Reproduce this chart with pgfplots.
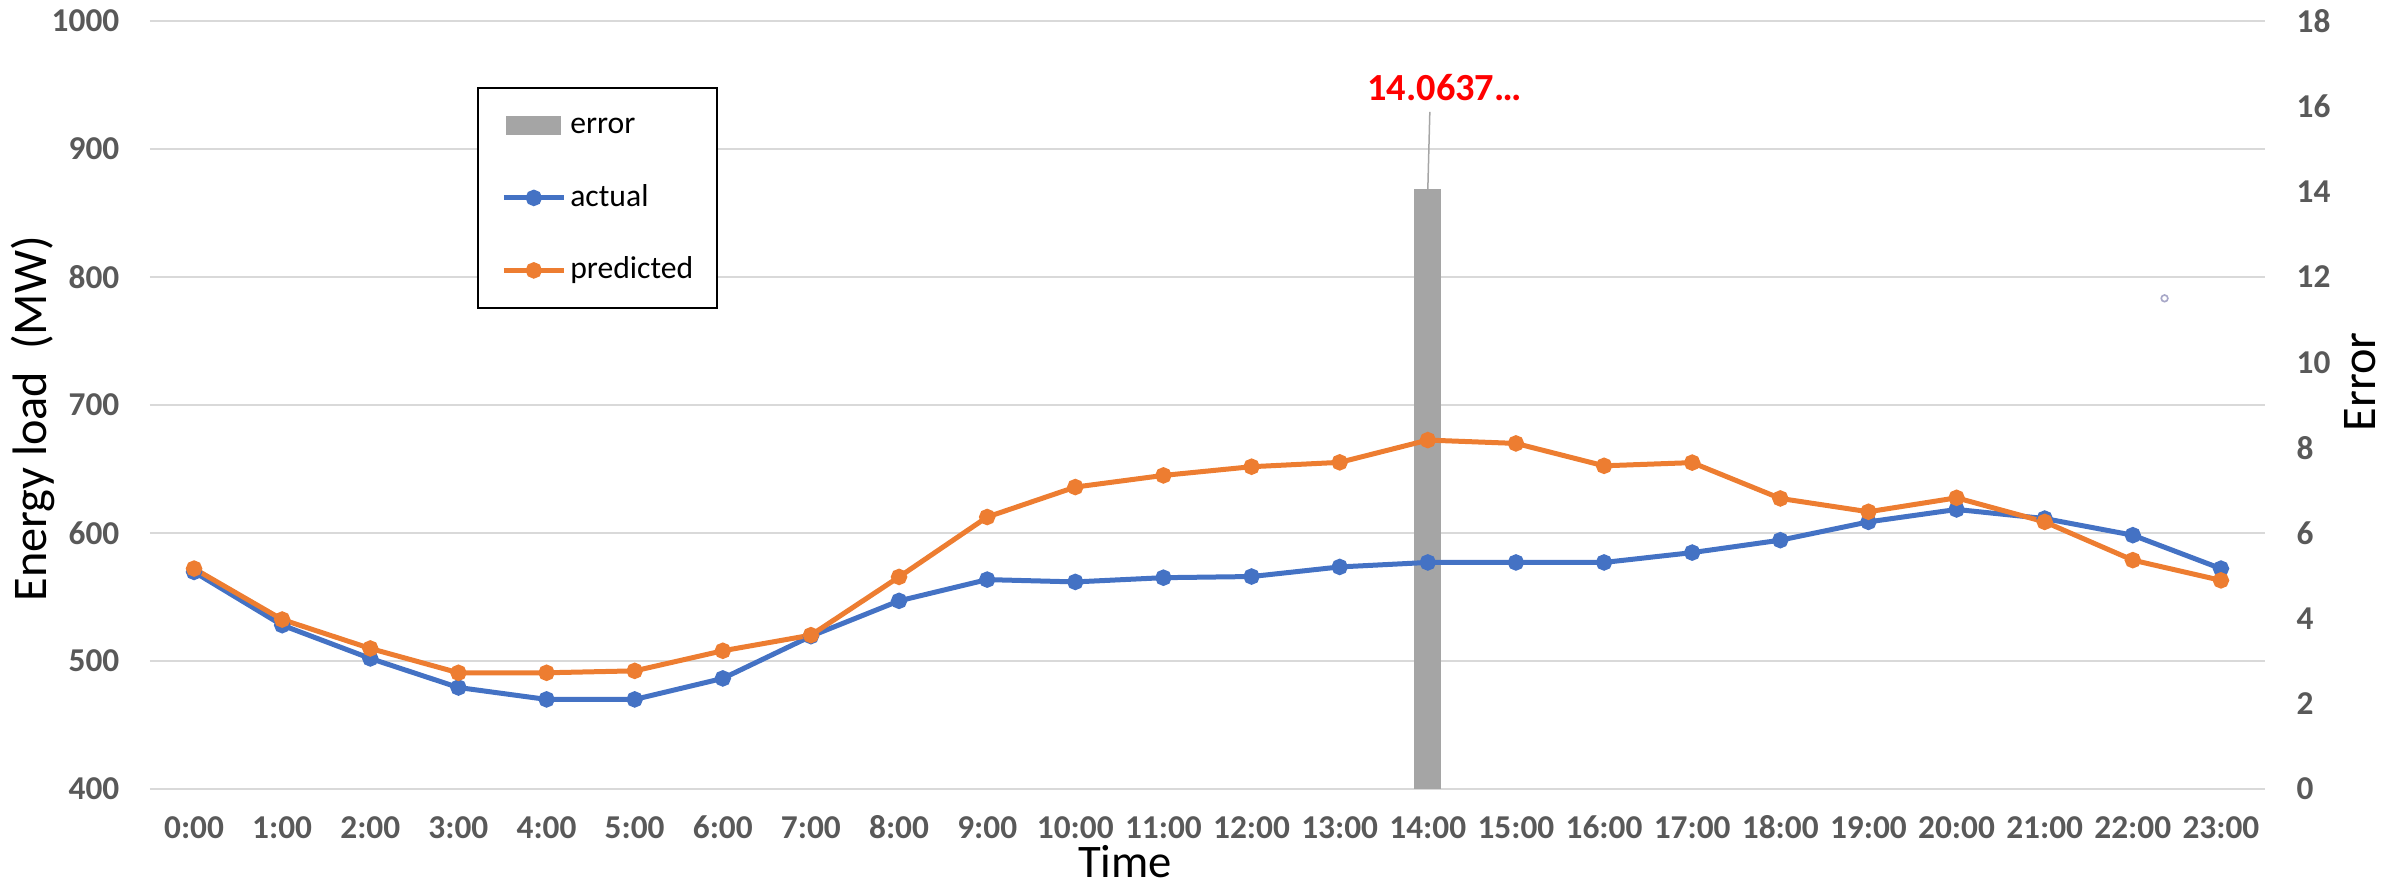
\documentclass[border=0pt]{standalone}
\usepackage{pgfplots}
\pgfplotsset{compat=1.18}
\usepackage{fontspec}
\setmainfont{Carlito}
\definecolor{actualblue}{HTML}{4472C4}
\definecolor{predorange}{HTML}{ED7D31}
\definecolor{errgray}{HTML}{A5A5A5}
\definecolor{gridgray}{HTML}{D9D9D9}
\definecolor{ticktext}{HTML}{595959}
\definecolor{leadergray}{HTML}{A6A6A6}
\definecolor{straycol}{HTML}{A8A8C8}

\pgfplotsset{
  base/.style={
    scale only axis, width=634.5pt, height=230.4pt,
    at={(0pt,0pt)}, anchor=south west,
    xmin=-0.5, xmax=23.5,
    /pgf/number format/assume math mode=true,
    /pgf/number format/1000 sep={},
    tick label style={font=\fontsize{10}{12}\selectfont\bfseries, text=ticktext},
    major tick length=0pt,
    axis line style={draw=none},
  },
  linestyle/.style={line width=1.5pt, mark=*, mark size=1.7pt, #1, mark options={solid, fill=#1, draw=#1}},
}

\begin{document}
\begin{tikzpicture}
% Axis A: grid, x ticks, left ticks and labels
\begin{axis}[base,
  ymin=400, ymax=1000, ytick={400,500,...,1000},
  ymajorgrids, grid style={gridgray, line width=0.6pt},
  xtick={0,...,23},
  xticklabels={0:00,1:00,2:00,3:00,4:00,5:00,6:00,7:00,8:00,9:00,10:00,11:00,12:00,13:00,14:00,15:00,16:00,17:00,18:00,19:00,20:00,21:00,22:00,23:00},
  yticklabel style={anchor=east, inner sep=0pt, xshift=-9pt},
  xticklabel style={anchor=base, inner sep=0pt, yshift=-14.85pt},
  xlabel={Time},
  xlabel style={at={([yshift=-26.4pt]axis description cs:0.461,0)}, anchor=base, inner sep=0pt, font=\fontsize{14}{16}\selectfont},
  ylabel={Energy load\ \ (MW)},
  ylabel style={at={([xshift=-35.1pt]axis description cs:0,0.482)}, anchor=center, inner sep=0pt, font=\fontsize{14.5}{17}\selectfont},
]
\addplot[draw=none, forget plot] coordinates {(0,400)};
\end{axis}

% Axis B: error bar on secondary axis
\begin{axis}[base,
  ymin=0, ymax=18, ytick={0,2,...,18},
  axis y line*=right, axis x line=none,
  yticklabel style={anchor=west, inner sep=0pt, xshift=9.3pt},
  ylabel={Error},
  ylabel style={at={([xshift=28.5pt]axis description cs:1,0.53)}, anchor=center, inner sep=0pt, font=\fontsize{14.5}{17}\selectfont},
]
\addplot[ybar, bar width=8.1pt, bar shift=0pt, fill=errgray, draw=none,
  point meta=explicit symbolic, nodes near coords,
  nodes near coords style={font=\fontsize{11.5}{13}\selectfont\bfseries, text=red, anchor=center, inner sep=0pt, yshift=30.3pt, xshift=5pt}]
  coordinates {(14,14.0637) [14.0637…]};
\draw[leadergray, line width=0.45pt] (axis cs:14,14.0637) -- ([xshift=0.6pt,yshift=23.1pt]axis cs:14,14.0637);
\addplot[only marks, mark=o, mark size=1pt, mark options={draw=straycol, line width=0.5pt}] coordinates {(22.36,11.5)};
\end{axis}

% Axis C: lines and legend
\begin{axis}[base,
  ymin=400, ymax=1000, hide axis,
  legend style={at={(0.1546,0.914)}, anchor=north west, draw=black, line width=0.6pt, fill=white,
    font=\fontsize{9.5}{11}\selectfont, inner xsep=7pt, inner ysep=6.7pt,
    row sep=12.75pt, column sep=1.2pt,
    nodes={inner sep=0pt, text height=7pt, text depth=2pt}},
  legend cell align=left,
  legend image code/.code={\draw[mark repeat=2, mark phase=2, #1] plot coordinates {(0pt,0pt) (9pt,0pt) (18pt,0pt)};},
]
\addlegendimage{area legend, fill=errgray, draw=none, legend image code/.code={\fill[errgray] (0.75pt,-2.85pt) rectangle (17.25pt,2.85pt);}}
\addlegendentry{error}
\addplot[linestyle=actualblue] coordinates {
(0,569.6) (1,528) (2,502) (3,479.3) (4,470) (5,470) (6,486.4) (7,519.4) (8,547) (9,563.6) (10,561.8) (11,565.1)
(12,566) (13,573.5) (14,577) (15,577) (16,577) (17,584.7) (18,594.4) (19,608.7) (20,618.4) (21,611.3) (22,598.3) (23,572.2)};
\addlegendentry{actual}
\addplot[linestyle=predorange] coordinates {
(0,572.2) (1,532.4) (2,509.8) (3,490.8) (4,490.8) (5,492.3) (6,508) (7,520.2) (8,565.7) (9,612.5) (10,635.9) (11,645)
(12,651.8) (13,655.2) (14,672.6) (15,670) (16,652.5) (17,655) (18,627) (19,616.6) (20,627.5) (21,608.7) (22,578.8) (23,563)};
\addlegendentry{predicted}
\end{axis}
\pgfresetboundingbox
\path[use as bounding box] (-45pt,-29.1pt) rectangle (670.2pt,236.7pt);
\end{tikzpicture}
\end{document}
